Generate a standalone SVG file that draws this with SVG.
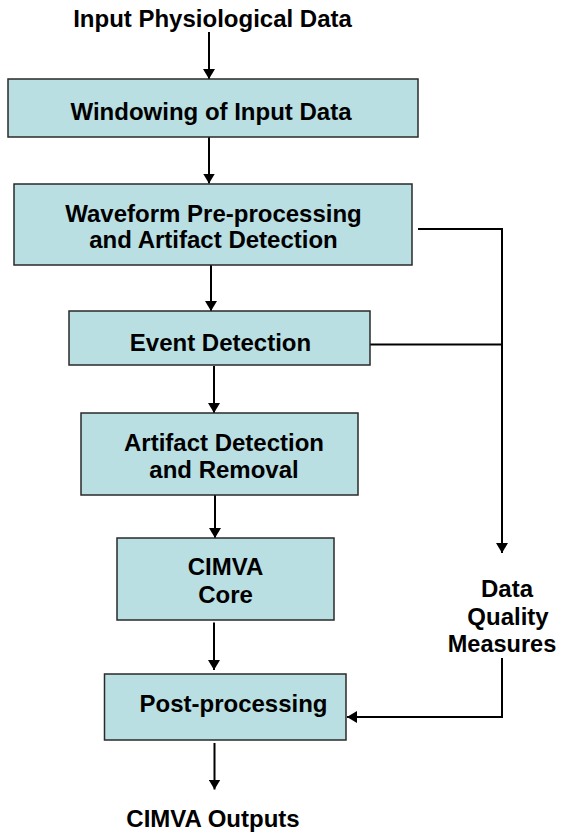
<svg xmlns="http://www.w3.org/2000/svg" width="561" height="834" viewBox="0 0 561 834">
<style>
  .t { font-family: "Liberation Sans", Arial, sans-serif; font-weight: bold; font-size: 24px; fill: #000; text-anchor: middle; }
  .box { fill: #B9DFE2; stroke: #2a2a2a; stroke-width: 1.5; }
  .ln { fill: none; stroke: #000; stroke-width: 2; }
  .ar { fill: none; stroke: #000; stroke-width: 2; marker-end: url(#ah); }
</style>
<defs>
  <marker id="ah" markerUnits="userSpaceOnUse" markerWidth="11" markerHeight="12" refX="10" refY="6" orient="auto">
    <path d="M0,0 L10,6 L0,12 z" fill="#000"/>
  </marker>
</defs>
<rect width="561" height="834" fill="#fff"/>

<g id="connectors">
  <line class="ar" x1="209" y1="32" x2="209" y2="79"/>
  <line class="ar" x1="209" y1="137" x2="209" y2="183.5"/>
  <line class="ar" x1="211" y1="265" x2="211" y2="311"/>
  <line class="ar" x1="214" y1="366" x2="214" y2="413"/>
  <line class="ar" x1="215" y1="493" x2="215" y2="538"/>
  <line class="ar" x1="214" y1="622.5" x2="214" y2="670"/>
  <line class="ar" x1="214.5" y1="743" x2="214.5" y2="789.5"/>
  <line class="ln" x1="418" y1="229" x2="502" y2="229"/>
  <line class="ln" x1="370" y1="344.5" x2="502" y2="344.5"/>
  <line class="ar" x1="502" y1="228" x2="502" y2="553"/>
  <polyline class="ar" points="502,658 502,717 347,717"/>
</g>

<g id="input-label">
  <text class="t" x="212.5" y="27">Input Physiological Data</text>
</g>

<g id="windowing">
  <rect class="box" x="8" y="79" width="410" height="58"/>
  <text class="t" x="211" y="120">Windowing of Input Data</text>
</g>

<g id="waveform">
  <rect class="box" x="14" y="184" width="398" height="81"/>
  <text class="t" x="213.5" y="221.5">Waveform Pre-processing</text>
  <text class="t" x="213.5" y="248">and Artifact Detection</text>
</g>

<g id="event-detection">
  <rect class="box" x="69" y="311" width="301" height="54"/>
  <text class="t" x="220.5" y="351">Event Detection</text>
</g>

<g id="artifact-removal">
  <rect class="box" x="81" y="413" width="277" height="82"/>
  <text class="t" x="224" y="451">Artifact Detection</text>
  <text class="t" x="224" y="477.5">and Removal</text>
</g>

<g id="cimva-core">
  <rect class="box" x="117" y="538" width="217" height="82"/>
  <text class="t" x="225.5" y="575">CIMVA</text>
  <text class="t" x="225.5" y="602.5">Core</text>
</g>

<g id="post-processing">
  <rect class="box" x="104.5" y="674" width="241.5" height="66"/>
  <text class="t" x="233.5" y="711.5">Post-processing</text>
</g>

<g id="data-quality">
  <text class="t" x="507" y="597">Data</text>
  <text class="t" x="508" y="625">Quality</text>
  <text class="t" x="502" y="652" style="font-size:23.5px">Measures</text>
</g>

<g id="outputs-label">
  <text class="t" x="213" y="827">CIMVA Outputs</text>
</g>
</svg>
